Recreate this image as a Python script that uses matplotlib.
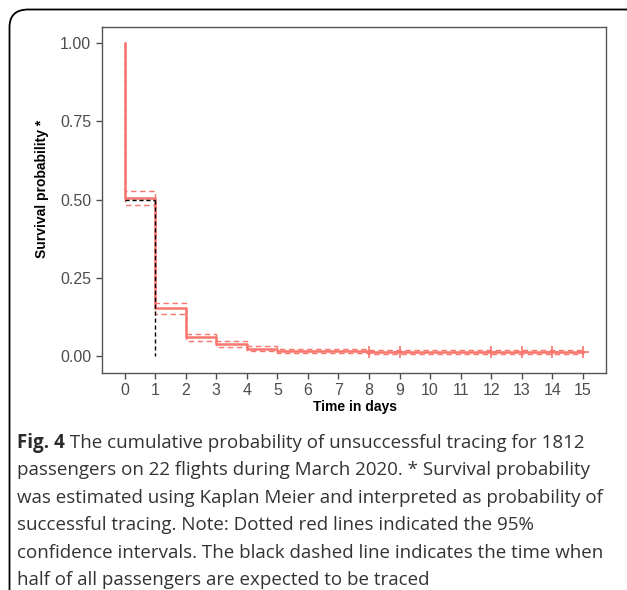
import matplotlib
matplotlib.use("Agg")
import matplotlib.pyplot as plt
from matplotlib.patches import FancyBboxPatch

# Kaplan-Meier estimate
days = [0, 0, 1, 2, 3, 4, 5, 8, 15]
surv = [1.0, 0.504, 0.155, 0.062, 0.039, 0.023, 0.016, 0.014, 0.014]
upper = [1.0, 0.528, 0.171, 0.071, 0.048, 0.032, 0.023, 0.021, 0.021]
lower = [1.0, 0.481, 0.136, 0.049, 0.029, 0.017, 0.010, 0.008, 0.008]
censor_days = [8, 9, 12, 13, 14, 15]
censor_surv = [0.014, 0.014, 0.014, 0.014, 0.014, 0.014]
median_day = 1
xticks = list(range(16))
yticks = [0, 0.25, 0.5, 0.75, 1.0]

caption_bold = "Fig. 4"
caption = [
    " The cumulative probability of unsuccessful tracing for 1812",
    "passengers on 22 flights during March 2020. * Survival probability",
    "was estimated using Kaplan Meier and interpreted as probability of",
    "successful tracing. Note: Dotted red lines indicated the 95%",
    "confidence intervals. The black dashed line indicates the time when",
    "half of all passengers are expected to be traced",
]

W, H = 627, 590
fig = plt.figure(figsize=(W / 100, H / 100), dpi=100)
plt.rcParams['font.family'] = ['Liberation Sans', 'DejaVu Sans']

# rounded frame round the figure
frame = FancyBboxPatch((9.5 / W, -0.2), 1.2, 1.2 - 9.5 / H,
                       boxstyle="round,pad=0,rounding_size=0.03",
                       transform=fig.transFigure, fill=False,
                       edgecolor="black", linewidth=1.3)
fig.patches.append(frame)

ax = fig.add_axes([101.7 / W, 1 - 372.7 / H, 504 / W, 345.4 / H])
red = "#F8766D"

ax.step(days, upper, where="post", color=red, lw=1.0, ls=(0, (4, 2.5)))
ax.step(days, lower, where="post", color=red, lw=1.0, ls=(0, (4, 2.5)))
ax.step(days, surv, where="post", color=red, lw=1.8)
ax.plot(censor_days, censor_surv, "+", color=red, ms=8, mew=1.2)

# median survival time
ax.plot([0, median_day], [0.5, 0.5], color="black", lw=1.0, ls=(0, (3, 2)))
ax.plot([median_day, median_day], [0.5, 0], color="black", lw=1.0, ls=(0, (3, 2)))

ax.set_xlim(-0.75, 15.75)
ax.set_ylim(-0.053, 1.05)
ax.set_xticks(xticks)
ax.set_yticks(yticks)
ax.set_yticklabels(["0.00", "0.25", "0.50", "0.75", "1.00"])
ax.tick_params(colors="#4D4D4D", labelsize=11.5, length=4, width=1)
for sp in ax.spines.values():
    sp.set_color("#555555")
    sp.set_linewidth(1.0)

fig.text(355 / W, 1 - 407 / H, "Time in days", ha="center", va="center",
         fontsize=10, fontweight="bold")
fig.text(42 / W, 1 - 189 / H, "Survival probability *", ha="center", va="center",
         rotation=90, fontsize=10, fontweight="bold")

# caption
fs = 13.5
y0 = 448
gap = 27.4
t = fig.text(17 / W, 1 - y0 / H, caption_bold, fontsize=fs, fontweight="bold",
             family="Open Sans", va="baseline", color="#2B2B2B")
fig.canvas.draw()
bb = t.get_window_extent()
x1 = bb.x1 / W
for i, line in enumerate(caption):
    x = x1 if i == 0 else 17 / W
    fig.text(x, 1 - (y0 + i * gap) / H, line, fontsize=fs, family="Open Sans",
             va="baseline", color="#333333")

fig.savefig("out.png", dpi=100)
